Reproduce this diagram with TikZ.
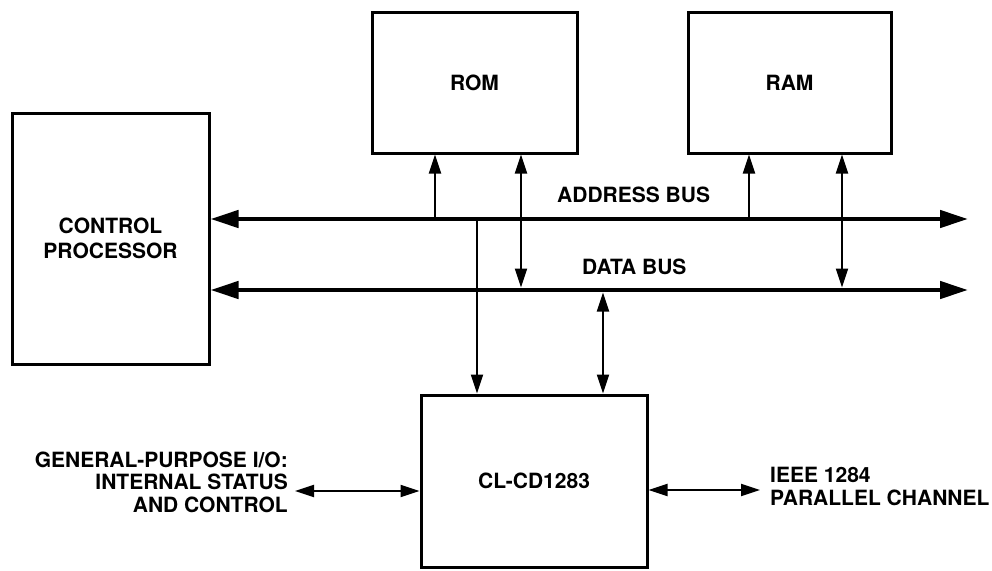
\documentclass[tikz,border=0pt]{standalone}
\usepackage{fontspec}
\setmainfont{TeX Gyre Heros}
\usetikzlibrary{arrows.meta}
\begin{document}
\begin{tikzpicture}[x=1pt,y=-1pt,
  font=\bfseries\fontsize{21}{22.5}\selectfont,
  box/.style={draw, line width=3pt, inner sep=0pt, align=center},
  bus/.style={line width=4.5pt, {Triangle[length=28pt,width=17pt]}-{Triangle[length=28pt,width=17pt]}},
  sig/.style={line width=2pt, -{Triangle[length=19pt,width=12pt]}},
  bisig/.style={line width=2pt, {Triangle[length=19pt,width=12pt]}-{Triangle[length=19pt,width=12pt]}},
  lbl/.style={inner sep=0pt}]
\useasboundingbox (0,0) rectangle (992,570);
\node[box, minimum width=197pt, minimum height=251pt, font=\bfseries\fontsize{21}{25}\selectfont] (cp) at (110.5,238.5) {CONTROL\\PROCESSOR};
\node[box, minimum width=205pt, minimum height=141pt] (rom) at (474.5,82.5) {ROM};
\node[box, minimum width=203pt, minimum height=141pt] (ram) at (789.5,82.5) {RAM};
\node[box, minimum width=226pt, minimum height=172pt] (cl) at (534,481) {CL-CD1283};
% buses
\coordinate (abR) at (968,219);
\coordinate (dbR) at (968,290);
\draw[bus] (cp.east |- abR) -- (abR);
\draw[bus] (cp.east |- dbR) -- (dbR);
% ROM / RAM
\coordinate (ra) at (435,219);
\coordinate (rd) at (521,287.5);
\coordinate (ma) at (749,219);
\coordinate (md) at (842,287.5);
\draw[sig] (ra) -- (ra |- rom.south);
\draw[bisig] (rd |- rom.south) -- (rd);
\draw[sig] (ma) -- (ma |- ram.south);
\draw[bisig] (md |- ram.south) -- (md);
% CL-CD1283
\coordinate (ca) at (477,219);
\coordinate (cd) at (603,292.5);
\draw[sig] (ca) -- (ca |- cl.north);
\draw[bisig] (cd) -- (cd |- cl.north);
\coordinate (gp) at (295,491);
\coordinate (ie) at (760,490);
\draw[bisig] (gp) -- (gp -| cl.west);
\draw[bisig] (ie -| cl.east) -- (ie);
% labels
\node[lbl, anchor=west] (ab) at (557,195) {ADDRESS BUS};
\node[lbl, anchor=west] (db) at (582,267) {DATA BUS};
\node[lbl, anchor=east, align=right] (gpl) at (288,482) {GENERAL-PURPOSE I/O:\\INTERNAL STATUS\\AND CONTROL};
\node[lbl, anchor=west, align=left] (iel) at (770,486.5) {IEEE 1284\\PARALLEL CHANNEL};
\end{tikzpicture}
\end{document}
